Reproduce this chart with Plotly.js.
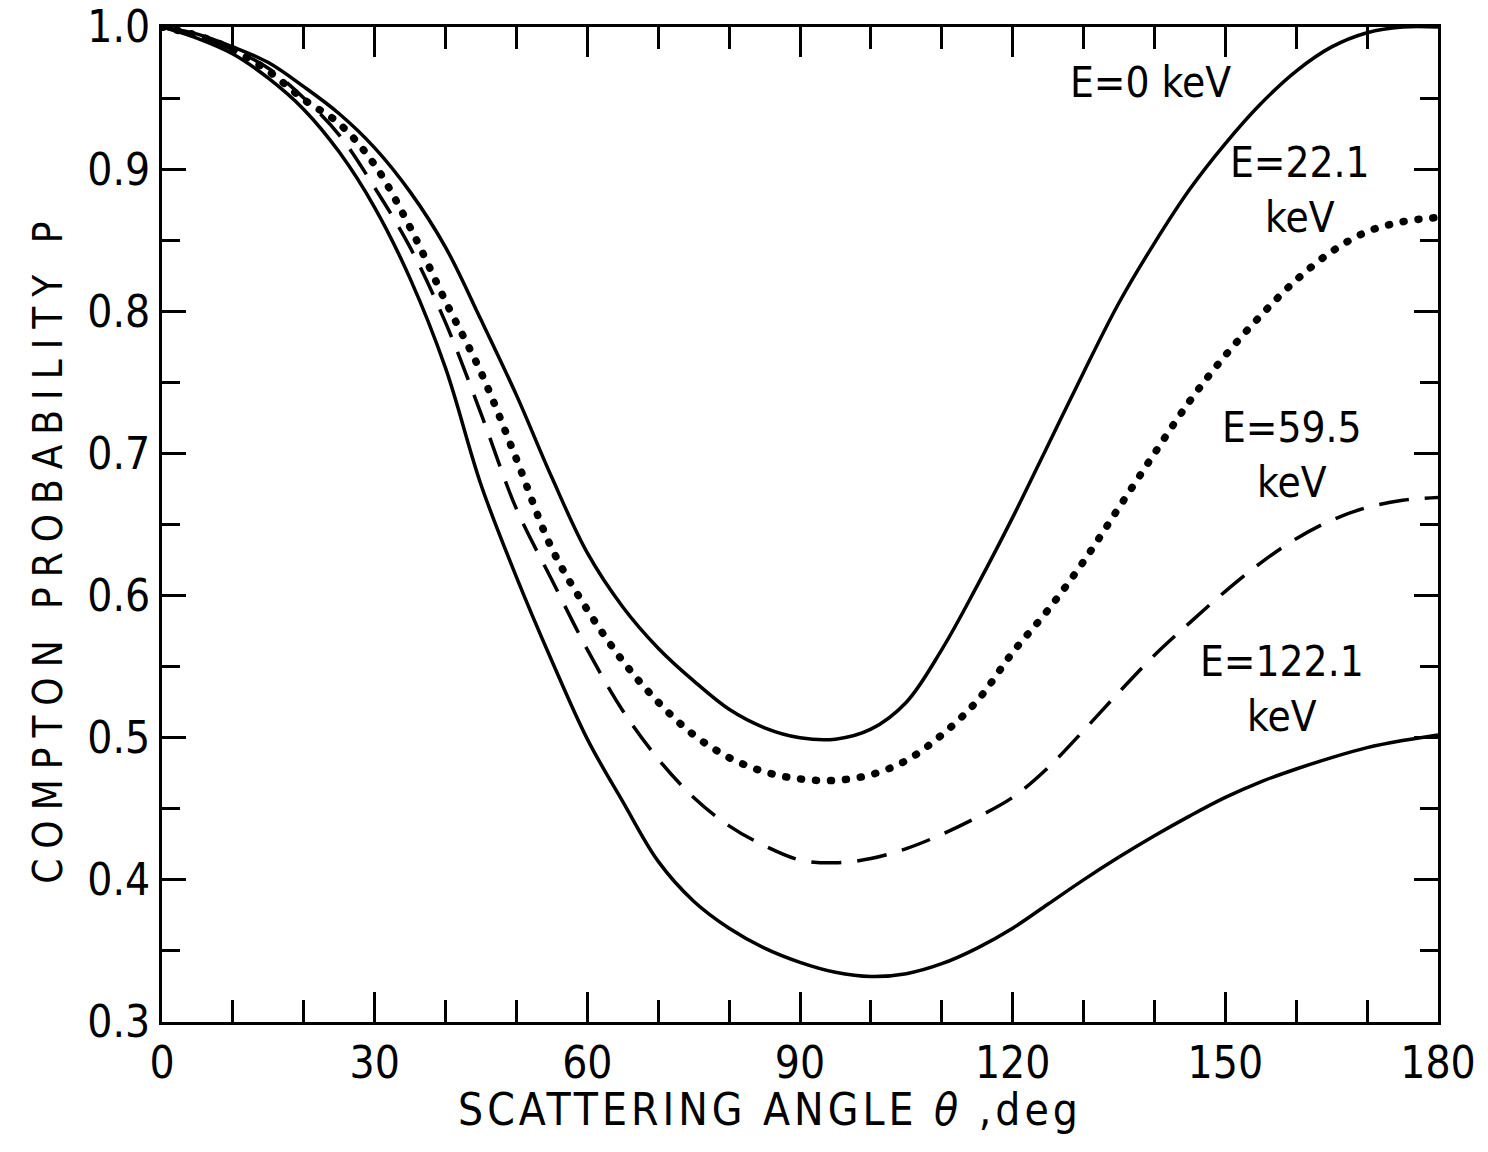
<!DOCTYPE html>
<html>
<head>
<meta charset="utf-8">
<script src="https://cdn.plot.ly/plotly-3.0.1.min.js"></script>
<style>
  html, body { margin: 0; padding: 0; background: #fff; }
  #chart { width: 1488px; height: 1152px; }
  .scatterlayer .trace:nth-child(2) .js-line { stroke-linecap: round; }
</style>
</head>
<body>
<div id="chart"></div>
<script>
// Scattering angle (deg)
const angle = [0,5,10,15,20,25,30,35,40,45,50,55,60,65,70,75,80,85,90,95,100,105,110,115,120,125,130,135,140,145,150,155,160,165,170,175,180];

// Compton probability P
const pE0 = [1.000,0.995,0.986,0.975,0.958,0.939,0.915,0.884,0.845,0.794,0.741,0.683,0.630,0.592,0.563,0.540,0.520,0.507,0.500,0.499,0.506,0.525,0.562,0.607,0.655,0.706,0.757,0.806,0.848,0.886,0.918,0.946,0.969,0.986,0.996,1.000,1.000];
const pE22 = [1.000,0.994,0.984,0.969,0.949,0.932,0.903,0.859,0.807,0.757,0.696,0.633,0.590,0.554,0.525,0.502,0.486,0.476,0.471,0.470,0.474,0.484,0.502,0.526,0.560,0.590,0.624,0.662,0.700,0.737,0.769,0.797,0.822,0.842,0.856,0.863,0.866];
const pE59 = [1.000,0.993,0.984,0.971,0.950,0.924,0.887,0.845,0.792,0.728,0.661,0.611,0.562,0.519,0.485,0.458,0.438,0.424,0.414,0.412,0.415,0.422,0.432,0.444,0.458,0.479,0.505,0.532,0.558,0.581,0.603,0.623,0.640,0.653,0.662,0.667,0.669];
const pE122 = [1.000,0.992,0.981,0.964,0.942,0.912,0.873,0.823,0.760,0.678,0.613,0.554,0.499,0.455,0.413,0.385,0.366,0.352,0.342,0.335,0.332,0.334,0.341,0.352,0.366,0.383,0.400,0.416,0.431,0.445,0.458,0.469,0.478,0.486,0.493,0.498,0.502];

// Curve labels
const labelText = ["E=0 keV", "E=22.1<br>keV", "E=59.5<br>keV", "E=122.1<br>keV"];
const labelX = [139.4, 160.5, 159.4, 158.0];
const labelY = [0.961, 0.885, 0.699, 0.534];

const xTitle = "SCATTERING ANGLE <i>θ</i> ,deg";
const yTitle = "COMPTON PROBABILITY P";

const xTickVals = [0,30,60,90,120,150,180];
const yTickVals = [0.3,0.4,0.5,0.6,0.7,0.8,0.9,1.0];
const yTickText = ["0.3","0.4","0.5","0.6","0.7","0.8","0.9","1.0"];

const FONT = "DejaVu Sans Condensed, Liberation Sans Narrow, DejaVu Sans, sans-serif";

function curve(y, dash, width) {
  return {
    x: angle, y: y, type: "scatter", mode: "lines",
    line: {color: "#000", width: width, dash: dash, shape: "spline", smoothing: 1},
    hoverinfo: "skip", showlegend: false
  };
}

const data = [
  curve(pE0, "solid", 3.5),
  curve(pE22, "1px,14px", 7.5),
  curve(pE59, "30px,16px", 3.5),
  curve(pE122, "solid", 3.5)
];

const annotations = labelText.map((t, i) => ({
  x: labelX[i], y: labelY[i], xref: "x", yref: "y",
  text: t, showarrow: false,
  font: {family: FONT, size: 42, color: "#000"},
  align: "center"
}));
annotations.push({
  x: -0.089, y: 0.477, xref: "paper", yref: "paper",
  text: yTitle, showarrow: false, textangle: -90,
  xanchor: "center", yanchor: "middle",
  font: {family: FONT, size: 40, color: "#000"}
});
annotations.push({
  x: 0.4765, y: -0.0884, xref: "paper", yref: "paper",
  text: xTitle, showarrow: false,
  xanchor: "center", yanchor: "middle",
  font: {family: FONT, size: 44, color: "#000"}
});

const layout = {
  width: 1488, height: 1152,
  margin: {l: 162, r: 50, t: 27, b: 130},
  paper_bgcolor: "#fff", plot_bgcolor: "#fff",
  showlegend: false,
  font: {family: FONT, color: "#000"},
  xaxis: {
    range: [0, 180],
    tickvals: xTickVals,
    ticks: "inside", ticklen: 30, tickwidth: 3, tickcolor: "#000",
    minor: {dtick: 10, tick0: 0, ticks: "inside", ticklen: 22, tickwidth: 3, tickcolor: "#000"},
    showline: true, linewidth: 3, linecolor: "#000", mirror: "allticks",
    showgrid: false, zeroline: false,
    tickfont: {family: FONT, size: 44, color: "#000"}
  },
  yaxis: {
    range: [0.3, 1.0],
    tickvals: yTickVals, ticktext: yTickText,
    ticks: "inside", ticklen: 24, tickwidth: 3, tickcolor: "#000",
    minor: {dtick: 0.05, tick0: 0.3, ticks: "inside", ticklen: 18, tickwidth: 3, tickcolor: "#000"},
    showline: true, linewidth: 3, linecolor: "#000", mirror: "allticks",
    showgrid: false, zeroline: false,
    tickfont: {family: FONT, size: 44, color: "#000"}
  },
  annotations: annotations
};

Plotly.newPlot("chart", data, layout, {displayModeBar: false, staticPlot: true}).then(() => {
  document.querySelectorAll(".annotation-text").forEach(a => {
    const t = a.textContent;
    if (t.indexOf("COMPTON") === 0) a.style.letterSpacing = "10px";
    if (t.indexOf("SCATTERING") === 0) a.style.letterSpacing = "4px";
  });
});
</script>
</body>
</html>
